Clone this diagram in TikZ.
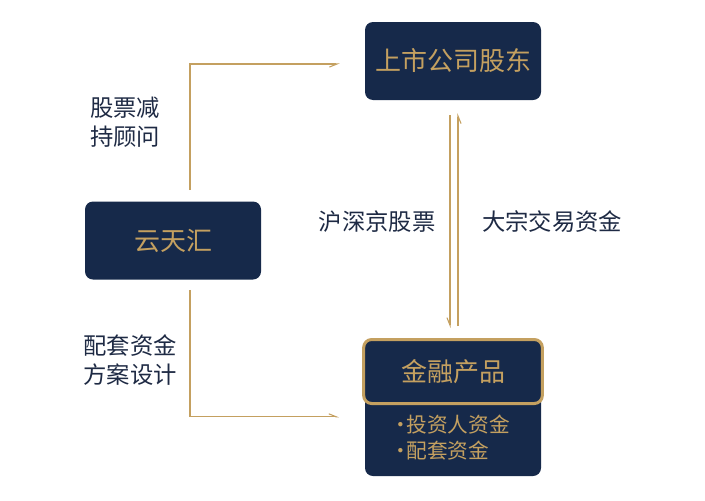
\documentclass[tikz,border=0pt]{standalone}
\usepackage{fontspec}
\setmainfont{Noto Sans CJK SC}
\usepackage{xcolor}
\usetikzlibrary{arrows.meta,positioning}
\definecolor{YthNavy}{HTML}{16294A}
\definecolor{YthGold}{HTML}{C4A060}
\definecolor{YthInk}{HTML}{1E2A44}
\newcommand\ythdot{\makebox[0.6em]{·}}

\begin{document}
\begin{tikzpicture}[
  x=0.75pt, y=-0.75pt,
  box/.style={fill=YthNavy, rounded corners=6pt, align=center, text=YthGold, minimum width=132pt, minimum height=58.5pt, font=\fontsize{19.5}{23}\selectfont},
  framed/.style={box, draw=YthGold, line width=2.25pt, minimum width=134pt, minimum height=48pt},
  lbl/.style={text=YthInk, align=center, font=\fontsize{17.5}{22}\selectfont},
  arrow/.style={-{Straight Barb[harpoon,swap,length=2mm,width=1.6mm]}, draw=YthGold, line width=0.8pt}
]
  \useasboundingbox (0,0) rectangle (705,500);
  \node[box] (holder) at (453,61) {上市公司股东};
  \node[box] (yth) at (173,240.5) {云天汇};
  \node[box, minimum height=102pt] (fund) at (453,408) {};
  \node[framed] (product) at (453,371.5) {金融产品};
  \node[text=YthGold, align=left, font=\fontsize{15.5}{19.5}\selectfont] (fundlist) at (452,438) {\ythdot 投资人资金\\\ythdot 配套资金};
  \draw[arrow] ([xshift=12.75pt,yshift=8.25pt]yth.north) |- ([xshift=-18.75pt,yshift=-2.25pt]holder.west);
  \draw[arrow,-{Straight Barb[harpoon,length=2mm,width=1.6mm]}] ([xshift=12.75pt,yshift=-7.5pt]yth.south) |- ([xshift=-17.25pt,yshift=-34pt]product.west);
  \draw[arrow] ([xshift=-2.25pt,yshift=-11.25pt]holder.south) -- ([xshift=-2.25pt,yshift=7.5pt]product.north);
  \draw[arrow] ([xshift=3.75pt,yshift=9pt]product.north) -- ([xshift=3.75pt,yshift=-9.75pt]holder.south);
  \node[lbl] (advice) at (125,122) {股票减\\持顾问};
  \node[lbl] (design) at (130,360) {配套资金\\方案设计};
  \node[lbl] (stocks) at (377,222) {沪深京股票};
  \node[lbl] (block) at (552,222) {大宗交易资金};
\end{tikzpicture}
\end{document}
